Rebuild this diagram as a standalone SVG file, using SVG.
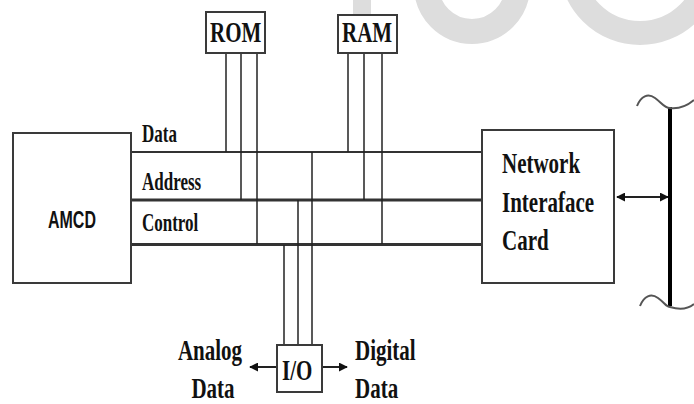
<svg xmlns="http://www.w3.org/2000/svg" width="694" height="404" viewBox="0 0 694 404">
  <style>
    .box { fill: #fff; stroke: #3a3a3a; stroke-width: 2; }
    .bus { stroke: #333; fill: none; }
    .drop { stroke: #222; stroke-width: 1.5; fill: none; }
    .arr { stroke: #222; stroke-width: 2; fill: none; }
    .serif { font-family: "Liberation Serif", "Times New Roman", serif; font-weight: bold; fill: #111; }
    .sans { font-family: "Liberation Sans", Arial, sans-serif; fill: #111; }
    .wm { fill: none; stroke: #dddddd; }
    .wave { fill: none; stroke: #555; stroke-width: 2; }
  </style>
  <defs>
    <marker id="head" viewBox="0 0 10 10" refX="9" refY="5" markerWidth="9" markerHeight="9" markerUnits="userSpaceOnUse" orient="auto-start-reverse">
      <path d="M0,0 L10,5 L0,10 z" fill="#111"/>
    </marker>
  </defs>

  <rect width="694" height="404" fill="#fff"/>

  <!-- faint background lettering -->
  <g id="watermark">
    <rect x="353" y="0" width="18" height="43" fill="#dddddd"/>
    <circle class="wm" cx="472" cy="-14" r="45.5" stroke-width="25"/>
    <circle class="wm" cx="640" cy="-36" r="69" stroke-width="24"/>
  </g>

  <!-- bus lines and drops -->
  <g id="connectors">
    <line class="bus" x1="131" y1="152" x2="482" y2="152" stroke-width="2"/>
    <line class="bus" x1="131" y1="200" x2="482" y2="200" stroke-width="2.8"/>
    <line class="bus" x1="131" y1="244.5" x2="482" y2="244.5" stroke-width="2.8"/>

    <!-- ROM taps -->
    <line class="drop" x1="226" y1="53" x2="226" y2="152"/>
    <line class="drop" x1="241" y1="53" x2="241" y2="200"/>
    <line class="drop" x1="257" y1="53" x2="257" y2="244"/>
    <!-- RAM taps -->
    <line class="drop" x1="348" y1="53" x2="348" y2="152"/>
    <line class="drop" x1="364" y1="53" x2="364" y2="200"/>
    <line class="drop" x1="382" y1="53" x2="382" y2="244"/>
    <!-- I/O taps -->
    <line class="drop" x1="284" y1="245" x2="284" y2="345"/>
    <line class="drop" x1="298" y1="200" x2="298" y2="345"/>
    <line class="drop" x1="312" y1="152" x2="312" y2="345"/>

    <!-- I/O outputs -->
    <line class="arr" x1="277" y1="367" x2="250" y2="367" marker-end="url(#head)"/>
    <line class="arr" x1="322" y1="367" x2="347" y2="367" marker-end="url(#head)"/>
    <!-- NIC to network -->
    <line class="arr" x1="617" y1="197" x2="668" y2="197" marker-start="url(#head)" marker-end="url(#head)"/>
  </g>

  <g id="amcd">
    <rect class="box" x="13" y="133" width="118" height="150"/>
    <text class="sans" font-size="16" font-weight="bold" transform="translate(48,228) scale(1,1.5)">AMCD</text>
  </g>

  <g id="rom">
    <rect class="box" x="206" y="12" width="59" height="41" stroke-width="2.5"/>
    <text class="serif" font-size="21" transform="translate(210,42) scale(1,1.45)">ROM</text>
  </g>

  <g id="ram">
    <rect class="box" x="338" y="15" width="59" height="38" stroke-width="2.5"/>
    <text class="serif" font-size="21" transform="translate(342,42) scale(1,1.45)">RAM</text>
  </g>

  <g id="nic">
    <rect class="box" x="482" y="130" width="132" height="153"/>
    <text class="serif" font-size="21" transform="translate(502,173) scale(1,1.45)">Network</text>
    <text class="serif" font-size="21" transform="translate(502,212) scale(1,1.45)">Interaface</text>
    <text class="serif" font-size="21" transform="translate(502,250) scale(1,1.45)">Card</text>
  </g>

  <g id="io">
    <rect class="box" x="277" y="345" width="45" height="47"/>
    <text class="serif" font-size="21" transform="translate(282,380) scale(1,1.45)">I/O</text>
  </g>

  <g id="network">
    <line x1="670" y1="107" x2="670" y2="306" stroke="#000" stroke-width="4"/>
    <path class="wave" d="M637,106 C641,96 648,93 655,98 S664,108 670,108 C679,109 687,106 694,100"/>
    <path class="wave" d="M640,306 C644,296 651,293 658,298 S666,307 670,307 C680,310 688,309 694,304"/>
  </g>

  <g id="bus-labels">
    <text class="serif" font-size="17" transform="translate(142,142) scale(1,1.45)">Data</text>
    <text class="serif" font-size="17" transform="translate(142,190) scale(1,1.45)">Address</text>
    <text class="serif" font-size="17" transform="translate(142,231) scale(1,1.45)">Control</text>
  </g>

  <g id="io-labels">
    <text class="serif" font-size="21" text-anchor="middle" transform="translate(210,360) scale(1,1.45)">Analog</text>
    <text class="serif" font-size="21" text-anchor="middle" transform="translate(213,398) scale(1,1.45)">Data</text>
    <text class="serif" font-size="21" transform="translate(355,360) scale(1,1.45)">Digital</text>
    <text class="serif" font-size="21" transform="translate(355,398) scale(1,1.45)">Data</text>
  </g>
</svg>
